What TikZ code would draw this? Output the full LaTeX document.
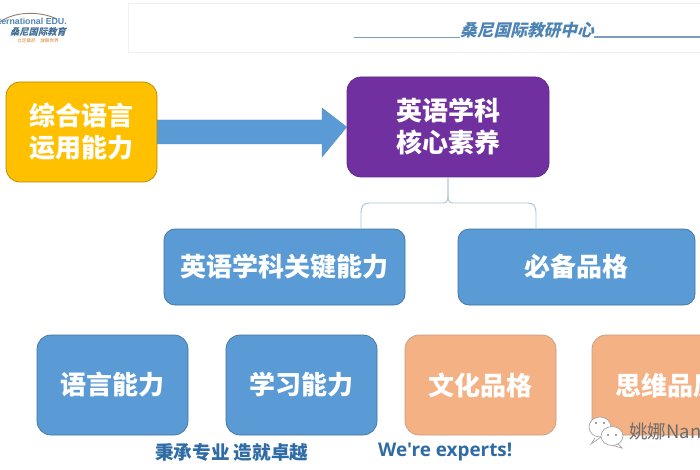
\documentclass[tikz,border=0pt]{standalone}
\usepackage{fontspec}
\setmainfont{Liberation Sans}
\newfontfamily\cjk{Noto Sans CJK SC}
\newfontfamily\cjkslant{Noto Sans CJK SC}[FakeSlant=0.25]
\newfontfamily\uifont{Open Sans}
\definecolor{cblue}{HTML}{5B9BD5}
\definecolor{cblueline}{HTML}{41719C}
\definecolor{cpurple}{HTML}{7030A0}
\definecolor{cyellow}{HTML}{FFC000}
\definecolor{corange}{HTML}{F4B183}
\definecolor{slogan}{HTML}{2F6BA5}
\definecolor{conn}{HTML}{A9C4D4}
\definecolor{headline}{HTML}{7A9CBF}
\tikzset{
  x=1pt,y=-1pt,
  boxbase/.style={rounded corners=14pt,line width=0.7pt,text=white,font=\cjk\bfseries\fontsize{26}{32}\selectfont,align=center,inner sep=0pt},
  yellowbox/.style={boxbase,fill=cyellow,draw=cyellow!70!black},
  purplebox/.style={boxbase,fill=cpurple,draw=cpurple!85!black},
  bluebox/.style={boxbase,fill=cblue,draw=cblueline},
  orangebox/.style={boxbase,fill=corange,draw=corange!60!gray},
  connline/.style={draw=conn,line width=0.9pt},
  sloganstyle/.style={text=slogan,font=\cjk\bfseries\fontsize{18.6}{20}\selectfont,inner sep=0pt,anchor=west},
  bubble/.style={draw=gray!70,fill=white,line width=0.7pt},
}
\begin{document}
\begin{tikzpicture}
\useasboundingbox (0,0) rectangle (700,470);
\clip (0,0) rectangle (700,470);
\fill[white] (0,0) rectangle (700,470);
% header
\draw[black!6,line width=0.8pt] (128,3) rectangle (705,52);
\coordinate (hl1) at (354,37); \coordinate (hl2) at (460,37);
\coordinate (hr1) at (594,37); \coordinate (hr2) at (700,37);
\draw[headline,line width=0.6pt] (hl1) -- (hl2);
\draw[headline,line width=1.2pt] (hr1) -- (hr2);
\node[inner sep=0pt,text=cblue!85!black,font=\cjkslant\bfseries\fontsize{16.7}{18}\selectfont] (title) at (527,30) {桑尼国际教研中心};
% logo
\draw[gray!70!brown,line width=0.9pt] (0,22) .. controls (15,11) and (40,11) .. (57,19);
\node[anchor=east,inner sep=0pt,text=cblue!85!black,font=\bfseries\fontsize{8.8}{10}\selectfont] (logoen) at (67,21) {International EDU.};
\node[anchor=center,inner sep=0pt,text=cblue!70!black,font=\cjkslant\bfseries\fontsize{9.3}{10}\selectfont] (logocn) at (38,32) {桑尼国际教育};
\node[anchor=center,inner sep=0pt,text=orange!70!gray,font=\cjk\fontsize{4.6}{5}\selectfont] (logosub) at (38,41) {立足桑尼\quad 放眼世界};
% boxes
\node[yellowbox,minimum width=151pt,minimum height=100pt] (yl) at (81.5,132) {综合语言\\运用能力};
\node[purplebox,minimum width=202pt,minimum height=100pt] (pu) at (448,127) {英语学科\\核心素养};
\node[bluebox,rounded corners=11pt,minimum width=241pt,minimum height=76pt] (b1) at (284.5,267) {英语学科关键能力};
\node[bluebox,rounded corners=11pt,minimum width=237pt,minimum height=76pt] (b2) at (576.5,267) {必备品格};
\node[bluebox,minimum width=151pt,minimum height=100pt] (c1) at (112.5,385) {语言能力};
\node[bluebox,minimum width=151pt,minimum height=100pt] (c2) at (301.5,385) {学习能力};
\node[orangebox,minimum width=151pt,minimum height=100pt] (c3) at (480.5,385) {文化品格};
\node[orangebox,minimum width=151pt,minimum height=100pt] (c4) at (667.5,385) {思维品质};
% block arrow
\fill[cblue,draw=cblue!90!black,line width=0.4pt]
  (yl.east |- 0,120) -- (322,120) -- (322,108) -- (pu.west) -- (322,157) -- (322,144) -- (yl.east |- 0,144) -- cycle;
% connectors
\coordinate (ta) at (361,229);
\coordinate (tb) at (536,229);
\draw[connline] (pu.south) -- (448,195) .. controls (448,203) and (446,203) .. (442,203) -- (369,203) .. controls (363,203) and (361,207) .. (361,213) -- (ta);
\draw[connline] (pu.south) -- (448,195) .. controls (448,203) and (450,203) .. (454,203) -- (528,203) .. controls (534,203) and (536,207) .. (536,213) -- (tb);
% slogans
\node[sloganstyle] (s1) at (155,452) {秉承专业 造就卓越};
\node[sloganstyle,font=\uifont\bfseries\fontsize{18.9}{20}\selectfont] (s2) at (378,452) {We're experts!};
% watermark
\draw[bubble] (595,438) -- (591,444) -- (601,437);
\draw[bubble] (600,427) ellipse (11 and 10);
\draw[bubble] (618,444) -- (622,448) -- (611,445);
\draw[bubble] (612,436) ellipse (11 and 9.5);
\foreach \p in {(596,423),(604,423),(608,435),(616,435)} \fill[gray] \p circle (1.1);
\node[anchor=west,inner sep=0pt,text=gray!85!black,font=\cjk\fontsize{18.5}{20}\selectfont] (wm) at (629,431) {姚娜Nana};
\end{tikzpicture}
\end{document}
